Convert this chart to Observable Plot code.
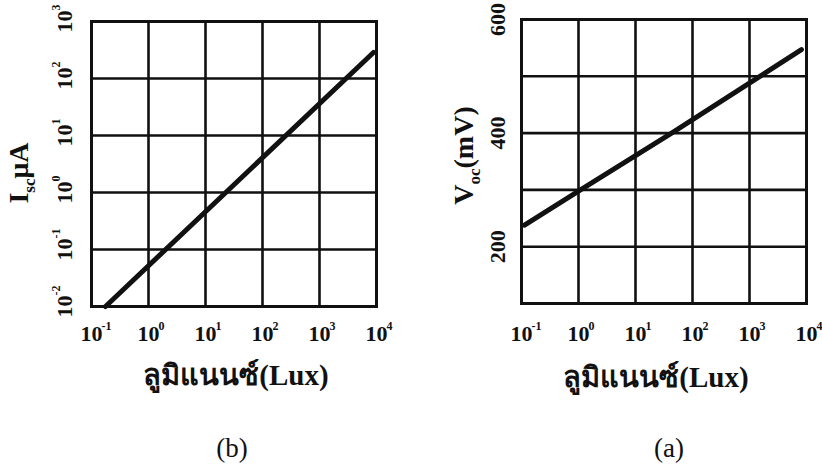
<!DOCTYPE html>
<html>
<head>
<meta charset="utf-8">
<script src="https://cdn.jsdelivr.net/npm/d3@7"></script>
<script src="https://cdn.jsdelivr.net/npm/@observablehq/plot@0.6"></script>
<style>
  html, body { margin: 0; padding: 0; background: #fff; }
  #chart { position: relative; width: 822px; height: 465px; overflow: hidden; background: #fff; }
  .panel { position: absolute; top: 0; }
  .caption { position: absolute; width: 100px; text-align: center; font-family: "Liberation Serif", "Times New Roman", serif;
             font-size: 27px; line-height: 27px; color: #111; top: 435px; }
</style>
</head>
<body>
<div id="chart"></div>
<script>
// Decade ticks shared by both illuminance axes
const luxTicks = [0.1, 1, 10, 100, 1000, 10000];
const luxExponents = ["-1", "0", "1", "2", "3", "4"];

// Short-circuit current panel (b)
const iscTicks = [0.01, 0.1, 1, 10, 100, 1000];
const iscExponents = ["-2", "-1", "0", "1", "2", "3"];
const iscLux = [0.176, 22.7, 8850];
const iscMicroA = [0.01, 1, 286];

// Open-circuit voltage panel (a)
const vocGrid = [200, 300, 400, 500];
const vocTicks = [200, 400, 600];
const vocLux = [0.113, 1, 43, 8150];
const vocMilliV = [238, 298, 400, 547];

const serif = "'Liberation Serif', 'Times New Roman', serif";
const ink = "#111";

// Turn "A_{bc}D" into text with a subscript
function applySubscripts(svg) {
  const ns = "http://www.w3.org/2000/svg";
  svg.querySelectorAll("text").forEach(t => {
    const m = t.textContent.match(/^(.*?)_\{(.*?)\}(.*)$/);
    if (!m) return;
    t.textContent = "";
    const a = document.createElementNS(ns, "tspan");
    a.textContent = m[1];
    const b = document.createElementNS(ns, "tspan");
    b.textContent = m[2];
    b.setAttribute("font-size", "17");
    b.setAttribute("dy", "7");
    const c = document.createElementNS(ns, "tspan");
    c.textContent = m[3];
    c.setAttribute("dy", "-7");
    t.append(a, b, c);
  });
}

function luxAxisMarks(labelDy, titleDx, titleDy) {
  return [
    Plot.text(luxTicks, {x: d => d, text: () => "10", frameAnchor: "bottom", lineAnchor: "bottom",
      textAnchor: "middle", dy: labelDy, fontSize: 22, fontWeight: "bold", fontFamily: serif, fill: ink}),
    Plot.text(luxTicks, {x: d => d, text: (d, i) => luxExponents[i], frameAnchor: "bottom", lineAnchor: "bottom",
      textAnchor: "start", dx: 10, dy: labelDy - 11, fontSize: 12, fontWeight: "bold", fontFamily: serif, fill: ink}),
    Plot.text(["ลูมิแนนซ์(Lux)"], {text: d => d, frameAnchor: "bottom", lineAnchor: "bottom", textAnchor: "middle",
      dx: titleDx, dy: titleDy, fontSize: 29, fontWeight: "bold", fontFamily: serif, fill: ink})
  ];
}

// Panel (b): Isc vs illuminance, log-log
const left = Plot.plot({
  width: 411, height: 430,
  marginLeft: 91, marginRight: 35, marginTop: 21, marginBottom: 124,
  style: {fontFamily: serif, background: "transparent", overflow: "visible"},
  x: {type: "log", domain: [0.1, 10000], axis: null},
  y: {type: "log", domain: [0.01, 1000], axis: null},
  marks: [
    Plot.ruleX(luxTicks, {stroke: ink, strokeWidth: 2.6}),
    Plot.ruleY(iscTicks, {stroke: ink, strokeWidth: 2.6}),
    Plot.frame({stroke: ink, strokeWidth: 3}),
    Plot.line(iscLux.map((x, i) => ({x, y: iscMicroA[i]})), {x: "x", y: "y", stroke: ink, strokeWidth: 5}),
    Plot.text(iscTicks, {y: d => d, text: () => "10", frameAnchor: "left", rotate: -90, lineAnchor: "bottom",
      textAnchor: "middle", dx: -20, fontSize: 22, fontWeight: "bold", fontFamily: serif, fill: ink}),
    Plot.text(iscTicks, {y: d => d, text: (d, i) => iscExponents[i], frameAnchor: "left", rotate: -90, lineAnchor: "bottom",
      textAnchor: "start", dx: -32, dy: -11, fontSize: 12, fontWeight: "bold", fontFamily: serif, fill: ink}),
    Plot.text(["I_{sc}μA"], {text: d => d, frameAnchor: "left", rotate: -90, lineAnchor: "bottom", textAnchor: "middle",
      dx: -64, dy: 9, fontSize: 28, fontWeight: "bold", fontFamily: serif, fill: ink}),
    ...luxAxisMarks(34, 2, 78)
  ]
});

// Panel (a): Voc vs illuminance, semi-log
const right = Plot.plot({
  width: 411, height: 430,
  marginLeft: 110, marginRight: 16, marginTop: 19, marginBottom: 127,
  style: {fontFamily: serif, background: "transparent", overflow: "visible"},
  x: {type: "log", domain: [0.1, 10000], axis: null},
  y: {type: "linear", domain: [100, 600], axis: null},
  marks: [
    Plot.ruleX(luxTicks, {stroke: ink, strokeWidth: 2.6}),
    Plot.ruleY(vocGrid, {stroke: ink, strokeWidth: 2.6}),
    Plot.frame({stroke: ink, strokeWidth: 3}),
    Plot.line(vocLux.map((x, i) => ({x, y: vocMilliV[i]})), {x: "x", y: "y", stroke: ink, strokeWidth: 5}),
    Plot.text(vocTicks, {y: d => d, text: d => String(d), frameAnchor: "left", rotate: -90, lineAnchor: "bottom",
      textAnchor: "middle", dx: -17, fontSize: 22, fontWeight: "bold", fontFamily: serif, fill: ink}),
    Plot.text(["V_{oc}(mV)"], {text: d => d, frameAnchor: "left", rotate: -90, lineAnchor: "bottom", textAnchor: "middle",
      dx: -49, dy: -6, fontSize: 28, fontWeight: "bold", fontFamily: serif, fill: ink}),
    ...luxAxisMarks(37, -8, 83)
  ]
});

applySubscripts(left);
applySubscripts(right);

const chart = document.getElementById("chart");
const p1 = document.createElement("div"); p1.className = "panel"; p1.style.left = "0px"; p1.append(left);
const p2 = document.createElement("div"); p2.className = "panel"; p2.style.left = "411px"; p2.append(right);
const c1 = document.createElement("div"); c1.className = "caption"; c1.style.left = "182px"; c1.textContent = "(b)";
const c2 = document.createElement("div"); c2.className = "caption"; c2.style.left = "619px"; c2.textContent = "(a)";
chart.append(p1, p2, c1, c2);
</script>
</body>
</html>
